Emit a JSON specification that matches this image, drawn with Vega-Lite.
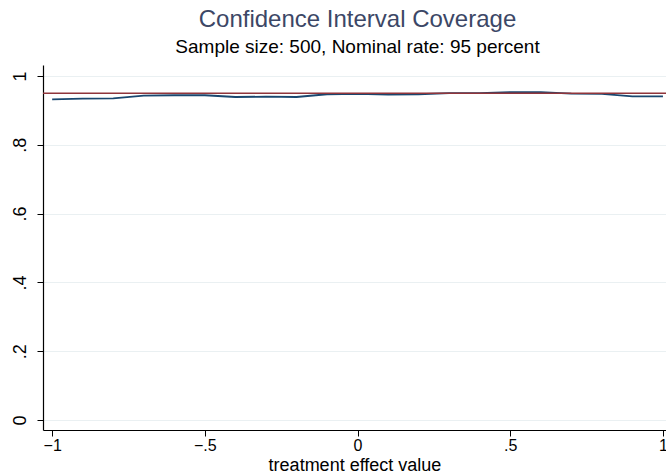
{
  "$schema": "https://vega.github.io/schema/vega-lite/v6.json",
  "width": 623,
  "height": 365,
  "autosize": {"type": "none"},
  "padding": {"left": 43, "top": 65, "right": 0, "bottom": 46},
  "background": "white",
  "config": {
    "view": {"stroke": null},
    "font": "Liberation Sans",
    "axis": {"domainColor": "#000000", "tickColor": "#000000", "labelColor": "#000000", "titleColor": "#000000", "labelFont": "Liberation Sans", "titleFont": "Liberation Sans"}
  },
  "title": {
    "text": "Confidence Interval Coverage",
    "subtitle": "Sample size: 500, Nominal rate: 95 percent",
    "anchor": "middle",
    "frame": "group",
    "font": "Liberation Sans",
    "fontSize": 24,
    "fontWeight": "normal",
    "color": "#3c4766",
    "subtitleFont": "Liberation Sans",
    "subtitleFontSize": 19,
    "subtitleColor": "#000000",
    "subtitlePadding": 6,
    "offset": 8,
    "dx": 3
  },
  "datasets": {
    "coverage": [
      {"effect": -1.0, "coverage": 0.932},
      {"effect": -0.9, "coverage": 0.934},
      {"effect": -0.8, "coverage": 0.935},
      {"effect": -0.7, "coverage": 0.943},
      {"effect": -0.6, "coverage": 0.944},
      {"effect": -0.5, "coverage": 0.944},
      {"effect": -0.4, "coverage": 0.939},
      {"effect": -0.3, "coverage": 0.940},
      {"effect": -0.2, "coverage": 0.939},
      {"effect": -0.1, "coverage": 0.947},
      {"effect": 0.0, "coverage": 0.948},
      {"effect": 0.1, "coverage": 0.946},
      {"effect": 0.2, "coverage": 0.947},
      {"effect": 0.3, "coverage": 0.950},
      {"effect": 0.4, "coverage": 0.950},
      {"effect": 0.5, "coverage": 0.953},
      {"effect": 0.6, "coverage": 0.953},
      {"effect": 0.7, "coverage": 0.949},
      {"effect": 0.8, "coverage": 0.948},
      {"effect": 0.9, "coverage": 0.941},
      {"effect": 1.0, "coverage": 0.941}
    ],
    "nominal": [{"rate": 0.95}]
  },
  "layer": [
    {
      "data": {"name": "coverage"},
      "mark": {"type": "line", "color": "#1a476f", "strokeWidth": 1.8, "clip": true},
      "encoding": {
        "x": {
          "field": "effect", "type": "quantitative",
          "scale": {"domain": [-1.03, 1.01], "nice": false, "zero": false},
          "axis": {
            "values": [-1, -0.5, 0, 0.5, 1],
            "labelExpr": "datum.value == 0 ? '0' : replace(format(datum.value, '.1~f'), '0.', '.')",
            "grid": false,
            "title": "treatment effect value",
            "labelFontSize": 16, "titleFontSize": 18, "titleFontWeight": "normal",
            "tickSize": 6, "labelPadding": 1, "titlePadding": 3,
            "domainWidth": 1.2, "tickWidth": 1
          }
        },
        "y": {
          "field": "coverage", "type": "quantitative",
          "scale": {"domain": [-0.029, 1.032], "nice": false, "zero": false},
          "axis": {
            "values": [0, 0.2, 0.4, 0.6, 0.8, 1],
            "labelExpr": "datum.value == 0 ? '0' : datum.value == 1 ? '1' : replace(format(datum.value, '.1f'), '0.', '.')",
            "grid": true, "gridColor": "#eaf0f2", "gridWidth": 1,
            "title": null,
            "labelAngle": 270, "labelAlign": "center", "labelBaseline": "bottom",
            "labelFontSize": 18, "tickSize": 6, "labelPadding": 8,
            "domainWidth": 1.2, "tickWidth": 1
          }
        }
      }
    },
    {
      "data": {"name": "nominal"},
      "mark": {"type": "rule", "color": "#90353b", "strokeWidth": 1.6},
      "encoding": {
        "y": {"field": "rate", "type": "quantitative"}
      }
    }
  ]
}
